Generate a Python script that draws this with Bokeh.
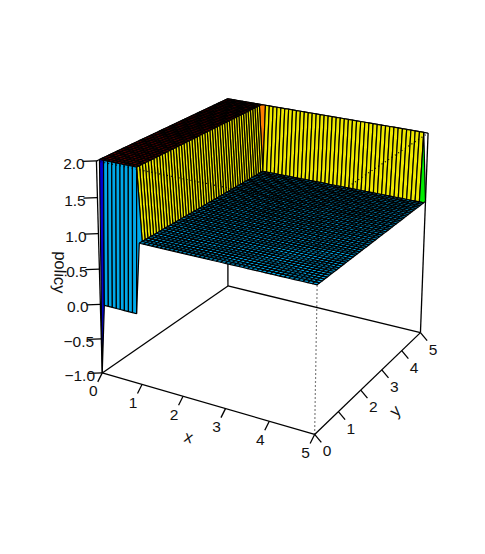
import numpy as np
from bokeh.plotting import figure
from bokeh.models import Range1d
from bokeh.core.properties import value
from bokeh.embed import file_html
from bokeh.resources import INLINE

# grid of the policy surface
x_grid = [i / 10 for i in range(51)]
y_grid = [i / 10 for i in range(51)]
# policy along x, for the y-rows of the grid
policy_first_row = [-1] + [0] * 9 + [1] * 41     # y = 0
policy_middle_row = [2] * 10 + [1] * 41          # 0 < y < 5
policy_last_row = [2] * 50 + [1]                 # y = 5
x_ticks = [0, 1, 2, 3, 4, 5]
y_ticks = [0, 1, 2, 3, 4, 5]
z_ticks = [-1.0, -0.5, 0.0, 0.5, 1.0, 1.5, 2.0]
z_tick_labels = ["\u22121.0", "\u22120.5", "0.0", "0.5", "1.0", "1.5", "2.0"]
facet_levels = [0.75, 1.0, 1.25, 1.5, 1.75, 2.0]
facet_colors = ["#0000CC", "#00A8E8", "#00EE00", "#EEE800", "#FF7F00", "#800000"]

# viewing transformation (persp-style 3D to screen), screen = reference pixels
VIEW = np.array([
    [38.06629989987144, 32.2555548335531, -3.333837251392827, 99.86601113336546],
    [5.552298614240166, -9.157548943682567, -73.94162692354853, 303.77564785356043],
    [-0.01595895414865198, 0.02971077403162397, -0.014241084596511378, 1.0],
])


def proj(x, y, z):
    q = VIEW @ np.array([x, y, z, 1.0])
    return q[0] / q[2], q[1] / q[2]


policy = [policy_first_row] + [policy_middle_row] * 49 + [policy_last_row]

p = figure(width=469, height=538, output_backend="svg", toolbar_location=None,
           x_range=Range1d(0, 469), y_range=Range1d(538, 0),
           min_border=0, outline_line_color=None)
p.axis.visible = False
p.grid.visible = False
p.background_fill_color = "white"
p.border_fill_color = "white"


def edges(pairs, **kw):
    xs, ys = [], []
    for a, b in pairs:
        A, B = proj(*a), proj(*b)
        xs.append([A[0], B[0]])
        ys.append([A[1], B[1]])
    p.multi_line(xs, ys, line_color="black", **kw)


x0, x1 = x_grid[0], x_grid[-1]
y0, y1 = y_grid[0], y_grid[-1]
zlo, zhi = z_ticks[0], z_ticks[-1]

# box behind the surface
edges([((x0, y0, zlo), (x0, y1, zlo)), ((x0, y1, zlo), (x1, y1, zlo)),
       ((x0, y1, zlo), (x0, y1, zhi)), ((x0, y1, zhi), (x1, y1, zhi)),
       ((x0, y0, zhi), (x0, y1, zhi)),
       ((x0, y0, zlo), (x0, y0, zhi)), ((x1, y1, zlo), (x1, y1, zhi))],
      line_width=1.3)

# surface facets, painted back to front
fx, fy, fc = [], [], []
for i in range(len(x_grid) - 1):
    for j in range(len(y_grid) - 2, -1, -1):
        corners = [(i, j), (i + 1, j), (i + 1, j + 1), (i, j + 1)]
        zs = [policy[b][a] for a, b in corners]
        pts = [proj(x_grid[a], y_grid[b], policy[b][a]) for a, b in corners]
        fx.append([q[0] for q in pts])
        fy.append([q[1] for q in pts])
        m = sum(zs) / 4
        k = int(np.argmin([abs(m - l) for l in facet_levels]))
        fc.append(facet_colors[k])
p.patches(fx, fy, fill_color=fc, line_color="black", line_width=1.2)

# dotted box edges in front of the surface
edges([((x0, y0, zhi), (x1, y0, zhi)), ((x1, y0, zhi), (x1, y1, zhi)),
       ((x1, y0, zlo), (x1, y0, zhi))], line_width=1.2, line_dash="1 3")

# axes along the front of the box
edges([((x0, y0, zlo), (x1, y0, zlo)), ((x1, y0, zlo), (x1, y1, zlo))], line_width=1.3)

FONT = value("Liberation Sans")
tx, ty, tex, tey = [], [], [], []
lx, ly, lt = [], [], []
for t in x_ticks:
    u, v = proj(t, y0, zlo)
    tx.append(u); ty.append(v); tex.append(u - 4.5); tey.append(v + 9)
    lx.append(u - 9); ly.append(v + 18.5); lt.append(str(t))
for t in y_ticks:
    u, v = proj(x1, t, zlo)
    tx.append(u); ty.append(v); tex.append(u + 6.7); tey.append(v + 8)
    lx.append(u + 12.5); ly.append(v + 17); lt.append(str(t))
for t, s in zip(z_ticks, z_tick_labels):
    u, v = proj(x0, y0, t)
    tx.append(u); ty.append(v); tex.append(u - 14); tey.append(v + 0.5)
    lx.append(u - 22.5); ly.append(v + 3); lt.append(s)
p.segment(tx, ty, tex, tey, line_color="black", line_width=1.3)
p.text(lx, ly, text=lt, text_font=FONT, text_font_size="15.5px", text_color="#111111",
       text_align="center", text_baseline="middle")


def title(pos, s, deg):
    p.text([pos[0]], [pos[1]], text=[s], angle=np.deg2rad(deg), text_font=FONT,
           text_font_size="16.5px", text_color="#111111", text_align="center",
           text_baseline="middle")


title((188.3, 436), "x", -16)
title((394.3, 410), "y", 44)
title((60, 272), "policy", -92)

open("out.html", "w").write(file_html(p, INLINE))
